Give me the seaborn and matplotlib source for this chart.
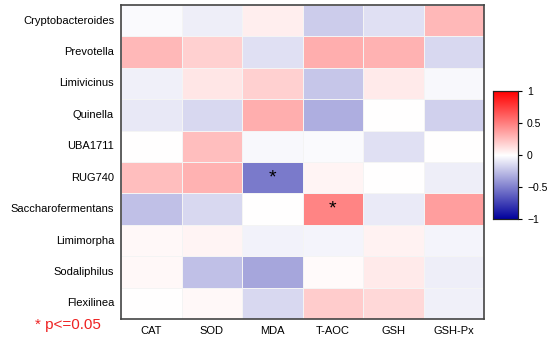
import matplotlib
matplotlib.use("Agg")
import matplotlib.pyplot as plt
from matplotlib.colors import LinearSegmentedColormap
import seaborn as sns
import numpy as np
import pandas as pd

# Géneros (filas) e índices antioxidantes (columnas)
generos = ['Cryptobacteroides', 'Prevotella', 'Limivicinus', 'Quinella', 'UBA1711',
           'RUG740', 'Saccharofermentans', 'Limimorpha', 'Sodaliphilus', 'Flexilinea']
indices = ['CAT', 'SOD', 'MDA', 'T-AOC', 'GSH', 'GSH-Px']

# Correlaciones
cat = [-0.02, 0.28, -0.06, -0.09, 0.00, 0.25, -0.25, 0.03, 0.03, 0.00]
sod = [-0.07, 0.18, 0.10, -0.15, 0.25, 0.30, -0.15, 0.04, -0.25, 0.03]
mda = [0.07, -0.12, 0.18, 0.32, -0.03, -0.52, 0.00, -0.05, -0.35, -0.15]
taoc = [-0.20, 0.32, -0.22, -0.32, -0.02, 0.04, 0.48, -0.04, 0.02, 0.20]
gsh = [-0.12, 0.30, 0.08, 0.00, -0.12, 0.00, -0.08, 0.05, 0.08, 0.15]
gshpx = [0.28, -0.15, -0.03, -0.18, 0.00, -0.07, 0.38, -0.04, -0.07, -0.06]

# Celdas significativas (fila, columna)
signif = [(5, 2), (6, 3)]

plt.rcParams['font.family'] = ['Liberation Sans', 'DejaVu Sans']

df = pd.DataFrame({'CAT': cat, 'SOD': sod, 'MDA': mda, 'T-AOC': taoc,
                   'GSH': gsh, 'GSH-Px': gshpx}, index=generos)[indices]

anot = np.full(df.shape, '', dtype=object)
for i, j in signif:
    anot[i, j] = '*'

cmap = LinearSegmentedColormap.from_list('azul_rojo', ['#00009C', '#FFFFFF', '#FF0000'])

fig = plt.figure(figsize=(5.5, 3.43), dpi=100)
ax = fig.add_axes([121 / 550, 1 - 319 / 343, 363 / 550, 314 / 343])
cax = fig.add_axes([493 / 550, 1 - 219 / 343, 25 / 550, 128 / 343])

sns.heatmap(df, ax=ax, cbar_ax=cax, cmap=cmap, vmin=-1, vmax=1,
            annot=anot, fmt='', annot_kws={'size': 14, 'color': 'black', 'va': 'center'},
            linewidths=0.6, linecolor='#f4f4f4')

for s in ax.spines.values():
    s.set_visible(True)
    s.set_color('#444444')
    s.set_linewidth(1.2)

ax.tick_params(length=0, labelsize=8, pad=5)
ax.set_xticklabels(indices, rotation=0)
ax.set_yticklabels(generos, rotation=0)
ax.set_xlabel('')
ax.set_ylabel('')

cax.set_yticks([-1, -0.5, 0, 0.5, 1])
cax.set_yticklabels(['\u22121', '\u22120.5', '0', '0.5', '1'])
cax.tick_params(labelsize=7.5, length=3, width=0.8)
for s in cax.spines.values():
    s.set_visible(True)
    s.set_color('#222222')
    s.set_linewidth(0.8)

fig.text(35 / 550, 1 - 325 / 343, '* p<=0.05', color='#ee2222', fontsize=11, va='center')

fig.savefig('out.png', dpi=100)
